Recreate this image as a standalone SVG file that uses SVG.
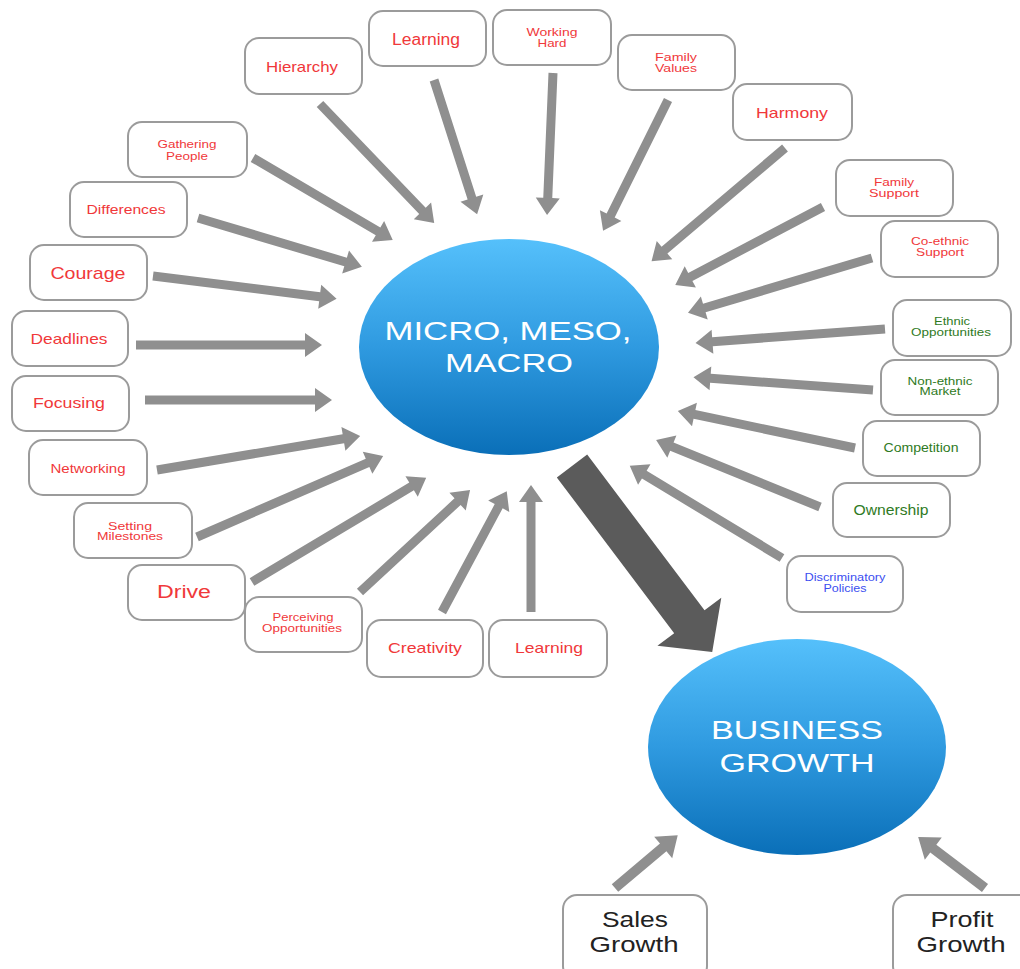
<svg xmlns="http://www.w3.org/2000/svg" width="1020" height="969" viewBox="0 0 1020 969">
  <defs>
    <linearGradient id="blueBall" x1="0" y1="0" x2="0" y2="1">
      <stop offset="0" stop-color="#55c0fb"/>
      <stop offset="0.5" stop-color="#2f9ae0"/>
      <stop offset="1" stop-color="#0a6fb8"/>
    </linearGradient>
    <style>
      text { font-family: "Liberation Sans", Arial, sans-serif; text-anchor: middle; }
      .box { fill: #ffffff; stroke: #9b9b9b; stroke-width: 2; }
      .r { fill: #f0383a; }
      .g { fill: #2f7a24; }
      .b { fill: #3b4ef0; }
      .k { fill: #222222; }
      .w { fill: #ffffff; }
      .arr { fill: #8f8f8f; }
      .big { fill: #5b5b5b; }
      .hub { fill: url(#blueBall); }
    </style>
  </defs>

  <!-- connectors -->
  <g id="connectors">
    <g class="arr">
      <g transform="translate(320,104) rotate(46.2)"><path d="M0,-4.5H148V-12L165,0L148,12V4.5H0Z"/></g>
      <g transform="translate(253,158) rotate(30.4)"><path d="M0,-4.5H145V-12L162,0L145,12V4.5H0Z"/></g>
      <g transform="translate(198,218) rotate(16.6)"><path d="M0,-4.5H154V-12L171,0L154,12V4.5H0Z"/></g>
      <g transform="translate(153,276) rotate(7.1)"><path d="M0,-4.5H168V-12L185,0L168,12V4.5H0Z"/></g>
      <g transform="translate(136,345)"><path d="M0,-4.5H169V-12L186,0L169,12V4.5H0Z"/></g>
      <g transform="translate(145,400)"><path d="M0,-4.5H170V-12L187,0L170,12V4.5H0Z"/></g>
      <g transform="translate(157,470) rotate(-9.5)"><path d="M0,-4.5H189V-12L206,0L189,12V4.5H0Z"/></g>
      <g transform="translate(197,537) rotate(-23.5)"><path d="M0,-4.5H186V-12L203,0L186,12V4.5H0Z"/></g>
      <g transform="translate(252,582) rotate(-30.9)"><path d="M0,-4.5H186V-12L203,0L186,12V4.5H0Z"/></g>
      <g transform="translate(360,592) rotate(-42.8)"><path d="M0,-4.5H133V-12L150,0L133,12V4.5H0Z"/></g>
      <g transform="translate(442,612) rotate(-61.8)"><path d="M0,-4.5H120V-12L137,0L120,12V4.5H0Z"/></g>
      <g transform="translate(531,612) rotate(-90)"><path d="M0,-4.5H110V-12L127,0L110,12V4.5H0Z"/></g>
      <g transform="translate(434,80) rotate(72.2)"><path d="M0,-4.5H124V-12L141,0L124,12V4.5H0Z"/></g>
      <g transform="translate(553,73) rotate(92.4)"><path d="M0,-4.5H125V-12L142,0L125,12V4.5H0Z"/></g>
      <g transform="translate(668,100) rotate(116.4)"><path d="M0,-4.5H129V-12L146,0L129,12V4.5H0Z"/></g>
      <g transform="translate(785,148) rotate(139.7)"><path d="M0,-4.5H158V-12L175,0L158,12V4.5H0Z"/></g>
      <g transform="translate(823,207) rotate(152.2)"><path d="M0,-4.5H150V-12L167,0L150,12V4.5H0Z"/></g>
      <g transform="translate(872,258) rotate(163.4)"><path d="M0,-4.5H175V-12L192,0L175,12V4.5H0Z"/></g>
      <g transform="translate(885,329) rotate(175.8)"><path d="M0,-4.5H173V-12L190,0L173,12V4.5H0Z"/></g>
      <g transform="translate(873,390) rotate(184.1)"><path d="M0,-4.5H163V-12L180,0L163,12V4.5H0Z"/></g>
      <g transform="translate(855,448) rotate(191.8)"><path d="M0,-4.5H164V-12L181,0L164,12V4.5H0Z"/></g>
      <g transform="translate(820,507) rotate(202.2)"><path d="M0,-4.5H160V-12L177,0L160,12V4.5H0Z"/></g>
      <g transform="translate(782,558) rotate(211.2)"><path d="M0,-4.5H161V-12L178,0L161,12V4.5H0Z"/></g>
      <g transform="translate(615,888) rotate(-40.1)"><path d="M0,-5H63V-14L82,0L63,14V5H0Z"/></g>
      <g transform="translate(985,888) rotate(217.3)"><path d="M0,-5H65V-14L84,0L65,14V5H0Z"/></g>
    </g>
    <g class="big" transform="translate(572,466) rotate(53)"><path d="M0,-19H195V-40L233,0L195,40V19H0Z"/></g>
  </g>

  <!-- hubs -->
  <g id="hub-micro">
    <ellipse class="hub" cx="509" cy="347" rx="150" ry="108"/>
    <text class="w" x="508" y="340" font-size="25" textLength="247" lengthAdjust="spacingAndGlyphs">MICRO, MESO,</text>
    <text class="w" x="509" y="372" font-size="25" textLength="128" lengthAdjust="spacingAndGlyphs">MACRO</text>
  </g>
  <g id="hub-growth">
    <ellipse class="hub" cx="797" cy="747" rx="149" ry="108"/>
    <text class="w" x="797" y="739" font-size="25" textLength="172" lengthAdjust="spacingAndGlyphs">BUSINESS</text>
    <text class="w" x="797" y="772" font-size="25" textLength="155" lengthAdjust="spacingAndGlyphs">GROWTH</text>
  </g>

  <!-- factor boxes -->
  <g id="n-hierarchy"><rect class="box" x="245" y="38" width="117" height="56" rx="14"/>
    <text class="r" x="302" y="72" font-size="15" textLength="72" lengthAdjust="spacingAndGlyphs">Hierarchy</text></g>
  <g id="n-learning-top"><rect class="box" x="369" y="11" width="117" height="55" rx="14"/>
    <text class="r" x="426" y="45" font-size="16" textLength="68" lengthAdjust="spacingAndGlyphs">Learning</text></g>
  <g id="n-working-hard"><rect class="box" x="493" y="10" width="118" height="55" rx="14"/>
    <text class="r" x="552" y="36" font-size="11" textLength="51" lengthAdjust="spacingAndGlyphs">Working</text>
    <text class="r" x="552" y="47" font-size="11" textLength="29" lengthAdjust="spacingAndGlyphs">Hard</text></g>
  <g id="n-family-values"><rect class="box" x="618" y="35" width="117" height="55" rx="14"/>
    <text class="r" x="676" y="61" font-size="11" textLength="42" lengthAdjust="spacingAndGlyphs">Family</text>
    <text class="r" x="676" y="72" font-size="11" textLength="42" lengthAdjust="spacingAndGlyphs">Values</text></g>
  <g id="n-harmony"><rect class="box" x="733" y="84" width="119" height="56" rx="14"/>
    <text class="r" x="792" y="118" font-size="15" textLength="72" lengthAdjust="spacingAndGlyphs">Harmony</text></g>
  <g id="n-family-support"><rect class="box" x="836" y="160" width="117" height="56" rx="14"/>
    <text class="r" x="894" y="186" font-size="11" textLength="40" lengthAdjust="spacingAndGlyphs">Family</text>
    <text class="r" x="894" y="197" font-size="11" textLength="50" lengthAdjust="spacingAndGlyphs">Support</text></g>
  <g id="n-coethnic-support"><rect class="box" x="881" y="221" width="117" height="56" rx="14"/>
    <text class="r" x="940" y="245" font-size="11" textLength="58" lengthAdjust="spacingAndGlyphs">Co-ethnic</text>
    <text class="r" x="940" y="256" font-size="11" textLength="48" lengthAdjust="spacingAndGlyphs">Support</text></g>
  <g id="n-ethnic-opportunities"><rect class="box" x="893" y="300" width="118" height="56" rx="14"/>
    <text class="g" x="952" y="325" font-size="11" textLength="36" lengthAdjust="spacingAndGlyphs">Ethnic</text>
    <text class="g" x="951" y="336" font-size="11" textLength="80" lengthAdjust="spacingAndGlyphs">Opportunities</text></g>
  <g id="n-nonethnic-market"><rect class="box" x="881" y="360" width="117" height="55" rx="14"/>
    <text class="g" x="940" y="385" font-size="11" textLength="65" lengthAdjust="spacingAndGlyphs">Non-ethnic</text>
    <text class="g" x="940" y="395" font-size="11" textLength="41" lengthAdjust="spacingAndGlyphs">Market</text></g>
  <g id="n-competition"><rect class="box" x="863" y="421" width="117" height="55" rx="14"/>
    <text class="g" x="921" y="452" font-size="13" textLength="75" lengthAdjust="spacingAndGlyphs">Competition</text></g>
  <g id="n-ownership"><rect class="box" x="833" y="483" width="117" height="54" rx="14"/>
    <text class="g" x="891" y="515" font-size="15" textLength="75" lengthAdjust="spacingAndGlyphs">Ownership</text></g>
  <g id="n-discriminatory-policies"><rect class="box" x="787" y="556" width="116" height="56" rx="14"/>
    <text class="b" x="845" y="581" font-size="11" textLength="81" lengthAdjust="spacingAndGlyphs">Discriminatory</text>
    <text class="b" x="845" y="592" font-size="11" textLength="43" lengthAdjust="spacingAndGlyphs">Policies</text></g>
  <g id="n-learning-bottom"><rect class="box" x="489" y="620" width="118" height="57" rx="14"/>
    <text class="r" x="549" y="653" font-size="15" textLength="68" lengthAdjust="spacingAndGlyphs">Learning</text></g>
  <g id="n-creativity"><rect class="box" x="367" y="620" width="116" height="57" rx="14"/>
    <text class="r" x="425" y="653" font-size="15" textLength="74" lengthAdjust="spacingAndGlyphs">Creativity</text></g>
  <g id="n-perceiving-opportunities"><rect class="box" x="245" y="597" width="117" height="55" rx="14"/>
    <text class="r" x="303" y="621" font-size="11" textLength="61" lengthAdjust="spacingAndGlyphs">Perceiving</text>
    <text class="r" x="302" y="632" font-size="11" textLength="80" lengthAdjust="spacingAndGlyphs">Opportunities</text></g>
  <g id="n-drive"><rect class="box" x="128" y="565" width="117" height="55" rx="14"/>
    <text class="r" x="184" y="598" font-size="18" textLength="54" lengthAdjust="spacingAndGlyphs">Drive</text></g>
  <g id="n-setting-milestones"><rect class="box" x="74" y="503" width="118" height="55" rx="14"/>
    <text class="r" x="130" y="530" font-size="11" textLength="44" lengthAdjust="spacingAndGlyphs">Setting</text>
    <text class="r" x="130" y="540" font-size="11" textLength="66" lengthAdjust="spacingAndGlyphs">Milestones</text></g>
  <g id="n-networking"><rect class="box" x="29" y="440" width="118" height="55" rx="14"/>
    <text class="r" x="88" y="473" font-size="12" textLength="75" lengthAdjust="spacingAndGlyphs">Networking</text></g>
  <g id="n-focusing"><rect class="box" x="12" y="376" width="117" height="55" rx="14"/>
    <text class="r" x="69" y="408" font-size="15" textLength="72" lengthAdjust="spacingAndGlyphs">Focusing</text></g>
  <g id="n-deadlines"><rect class="box" x="12" y="311" width="116" height="55" rx="14"/>
    <text class="r" x="69" y="344" font-size="15" textLength="77" lengthAdjust="spacingAndGlyphs">Deadlines</text></g>
  <g id="n-courage"><rect class="box" x="30" y="245" width="117" height="55" rx="14"/>
    <text class="r" x="88" y="279" font-size="17" textLength="75" lengthAdjust="spacingAndGlyphs">Courage</text></g>
  <g id="n-differences"><rect class="box" x="70" y="182" width="117" height="55" rx="14"/>
    <text class="r" x="126" y="214" font-size="13" textLength="79" lengthAdjust="spacingAndGlyphs">Differences</text></g>
  <g id="n-gathering-people"><rect class="box" x="128" y="122" width="119" height="55" rx="14"/>
    <text class="r" x="187" y="148" font-size="11" textLength="59" lengthAdjust="spacingAndGlyphs">Gathering</text>
    <text class="r" x="187" y="160" font-size="11" textLength="42" lengthAdjust="spacingAndGlyphs">People</text></g>

  <!-- outcome boxes -->
  <g id="n-sales-growth"><rect class="box" x="563" y="895" width="144" height="85" rx="14"/>
    <text class="k" x="635" y="927" font-size="22" textLength="66" lengthAdjust="spacingAndGlyphs">Sales</text>
    <text class="k" x="634" y="952" font-size="22" textLength="89" lengthAdjust="spacingAndGlyphs">Growth</text></g>
  <g id="n-profit-growth"><rect class="box" x="893" y="895" width="140" height="85" rx="14"/>
    <text class="k" x="962" y="927" font-size="22" textLength="63" lengthAdjust="spacingAndGlyphs">Profit</text>
    <text class="k" x="961" y="952" font-size="22" textLength="89" lengthAdjust="spacingAndGlyphs">Growth</text></g>
</svg>
